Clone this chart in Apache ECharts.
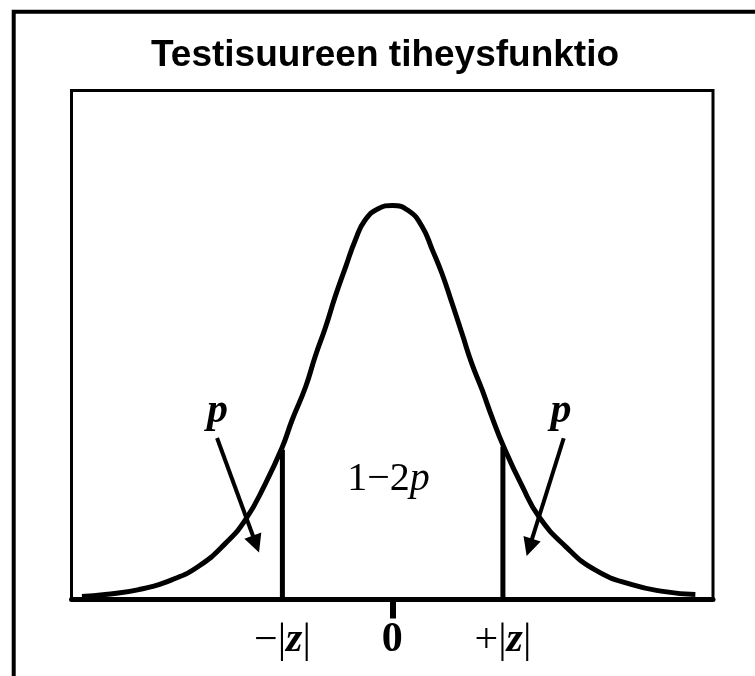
<!DOCTYPE html>
<html>
<head>
<meta charset="utf-8">
<script src="https://cdn.jsdelivr.net/npm/echarts@6/dist/echarts.min.js"></script>
<style>
  html, body { margin: 0; padding: 0; background: #fff; }
  #chart { width: 755px; height: 676px; }
</style>
</head>
<body>
<div id="chart"></div>
<script>
// density curve (x in z units, y density)
const curveX = [-3.87, -3.58, -3.16, -2.75, -2.41, -2.08, -1.83, -1.58, -1.37, -1.25, -1.08, -0.96, -0.83, -0.71, -0.58, -0.46, -0.34, -0.17, 0,
  0.2, 0.37, 0.5, 0.62, 0.745, 0.87, 0.99, 1.12, 1.24, 1.39, 1.62, 1.83, 2.16, 2.53, 2.99, 3.4, 3.78];
const curveY = [0.003, 0.005, 0.010, 0.020, 0.034, 0.057, 0.081, 0.118, 0.155, 0.182, 0.216, 0.247, 0.277, 0.308, 0.338, 0.365, 0.385, 0.397, 0.400,
  0.395, 0.379, 0.355, 0.331, 0.301, 0.270, 0.240, 0.213, 0.186, 0.155, 0.115, 0.084, 0.054, 0.030, 0.015, 0.008, 0.005];

// critical values -|z| and +|z| and where their lines meet the curve
const zLineX = [-1.37, 1.38];
const zLineTop = [0.152, 0.155];

const tickValues = [-1.37, 0, 1.38];
const tickLabels = ["\u2212|{z|z}|", "{b|0}", "+|{z|z}|"];

const serif = "'Liberation Serif', 'Times New Roman', serif";

const myChart = echarts.init(document.getElementById("chart"));

const option = {
  animation: false,
  backgroundColor: "#fff",
  title: {
    text: "Testisuureen tiheysfunktio",
    left: 151,
    top: 37,
    padding: 0,
    textStyle: {
      fontFamily: "'Liberation Sans', Arial, sans-serif",
      fontWeight: "bold",
      fontSize: 37,
      color: "#000",
    },
  },
  graphic: [
    {
      type: "polyline",
      shape: { points: [[13.7, 690], [13.7, 11.7], [770, 11.7]] },
      style: { stroke: "#000", lineWidth: 4, fill: null },
      silent: true,
    },
  ],
  grid: {
    show: true,
    left: 71.5,
    top: 90.5,
    right: 42,
    bottom: 76.5,
    borderColor: "#000",
    borderWidth: 3,
    backgroundColor: "transparent",
  },
  xAxis: {
    type: "value",
    min: -4,
    max: 4,
    splitLine: { show: false },
    axisLine: { show: true, lineStyle: { color: "#000", width: 5 } },
    axisTick: {
      show: true,
      customValues: [0],
      length: 19,
      lineStyle: { color: "#000", width: 6 },
    },
    axisLabel: {
      show: true,
      customValues: tickValues,
      margin: 20,
      color: "#000",
      fontFamily: serif,
      fontSize: 42,
      formatter: (v) => tickLabels[tickValues.indexOf(v)] || "",
      rich: {
        z: { fontFamily: serif, fontSize: 42, fontStyle: "italic", fontWeight: "bold", color: "#000" },
        b: { fontFamily: serif, fontSize: 42, fontWeight: "bold", color: "#000" },
      },
    },
  },
  yAxis: {
    type: "value",
    min: 0,
    max: 0.5168,
    show: false,
    splitLine: { show: false },
  },
  series: [
    {
      name: "tiheys",
      type: "line",
      smooth: 0.5,
      symbol: "none",
      lineStyle: { color: "#000", width: 5 },
      data: curveX.map((x, i) => [x, curveY[i]]),
      markPoint: {
        symbol: "circle",
        symbolSize: 0,
        silent: true,
        label: {
          show: true,
          position: "inside",
          color: "#000",
          fontFamily: serif,
          fontSize: 42,
          formatter: (p) => p.name,
          rich: {
            bi: { fontFamily: serif, fontSize: 42, fontStyle: "italic", fontWeight: "bold", color: "#000" },
            i: { fontFamily: serif, fontSize: 40, fontStyle: "italic", color: "#000" },
            r: { fontFamily: serif, fontSize: 40, color: "#000" },
          },
        },
        data: [
          { name: "{bi|p}", coord: [-2.18, 0.191] },
          { name: "{bi|p}", coord: [2.104, 0.191] },
          { name: "{r|1\u22122}{i|p}", coord: [-0.047, 0.122] },
        ],
      },
    },
    {
      name: "-z",
      type: "line",
      symbol: "none",
      lineStyle: { color: "#000", width: 5 },
      data: [[zLineX[0], 0], [zLineX[0], zLineTop[0]]],
      markLine: {
        silent: true,
        symbol: ["none", "triangle"],
        symbolSize: 18,
        label: { show: false },
        lineStyle: { color: "#000", width: 4, type: "solid" },
        data: [
          [{ coord: [-2.185, 0.164] }, { coord: [-1.70, 0.0563] }],
          [{ coord: [2.138, 0.1637] }, { coord: [1.71, 0.0529] }],
        ],
      },
    },
    {
      name: "+z",
      type: "line",
      symbol: "none",
      lineStyle: { color: "#000", width: 5 },
      data: [[zLineX[1], 0], [zLineX[1], zLineTop[1]]],
    },
  ],
};
myChart.setOption(option);
</script>
</body>
</html>
